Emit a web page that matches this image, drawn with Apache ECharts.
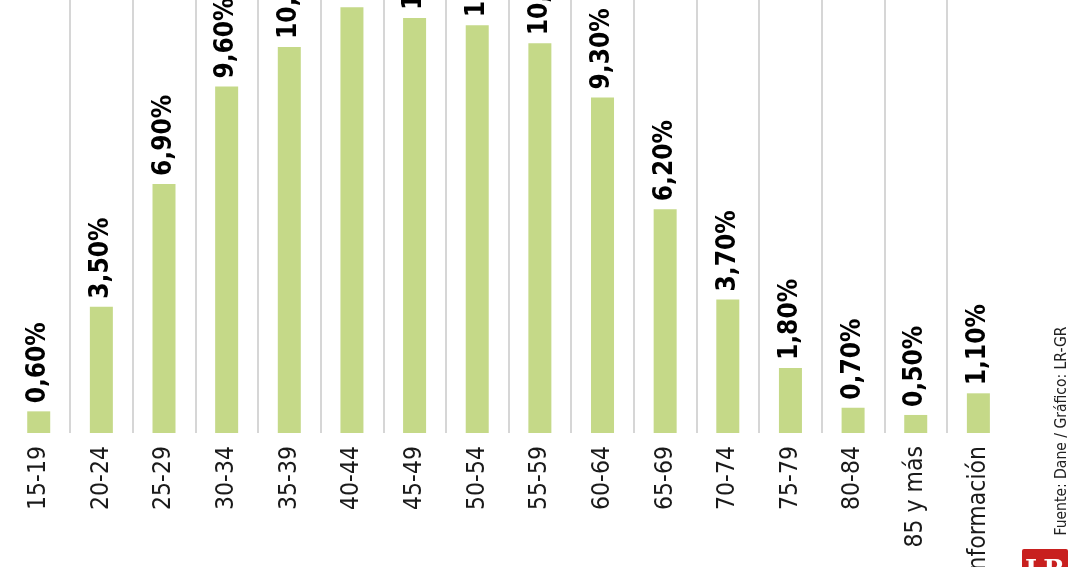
<!DOCTYPE html>
<html>
<head>
<meta charset="utf-8">
<style>html,body{margin:0;padding:0;background:#fff;}#c{width:1080px;height:567px;}</style>
<script src="https://cdn.jsdelivr.net/npm/echarts@6/dist/echarts.min.js"></script>
</head>
<body>
<div id="c"></div>
<script>
const categories = ['15-19','20-24','25-29','30-34','35-39','40-44','45-49','50-54','55-59','60-64','65-69','70-74','75-79','80-84','85 y más','Sin información'];
const values = [0.6, 3.5, 6.9, 9.6, 10.7, 11.8, 11.5, 11.3, 10.8, 9.3, 6.2, 3.7, 1.8, 0.7, 0.5, 1.1];
const sourceText = 'Fuente: Dane / Gráfico: LR-GR';

const FONT = "'DejaVu Sans Condensed', 'Roboto', sans-serif";
const chart = echarts.init(document.getElementById('c'));
chart.setOption({
  animation: false,
  backgroundColor: '#ffffff',
  grid: { left: 7.4, right: 70.3, top: 0, bottom: 134, containLabel: false, outerBoundsMode: 'none' },
  xAxis: {
    type: 'category',
    data: categories,
    boundaryGap: true,
    axisLine: { show: false },
    axisTick: { show: false },
    axisLabel: {
      rotate: 90,
      margin: 13,
      interval: 0,
      hideOverlap: false,
      fontFamily: FONT,
      fontSize: 24.5,
      color: '#1a1a1a'
    },
    splitLine: { show: true, showMinLine: false, showMaxLine: false, lineStyle: { color: '#c8c8c8', width: 1.5 } }
  },
  yAxis: {
    type: 'value', min: 0, max: 12, show: false, splitLine: { show: false }
  },
  series: [{
    type: 'bar',
    data: values,
    barWidth: 23,
    itemStyle: { color: '#c5d988' },
    label: {
      show: true,
      position: 'top',
      rotate: 90,
      align: 'left',
      verticalAlign: 'middle',
      distance: 8,
      fontFamily: FONT,
      fontWeight: 'bold',
      fontSize: 26,
      color: '#000',
      formatter: p => p.value.toFixed(2).replace('.', ',') + '%'
    }
  }],
  graphic: [
    {
      type: 'text',
      x: 1062, y: 431,
      rotation: Math.PI / 2,
      style: {
        text: sourceText,
        fontFamily: FONT,
        fontSize: 15.5,
        fill: '#222',
        align: 'center',
        verticalAlign: 'middle'
      }
    },
    {
      type: 'rect',
      shape: { x: 1022, y: 549, width: 46, height: 30, r: 2 },
      style: { fill: '#c8201f' }
    },
    {
      type: 'text',
      x: 1045, y: 558,
      style: {
        text: 'LR',
        fontFamily: 'DejaVu Serif',
        fontWeight: 'bold',
        fontSize: 26,
        fill: '#fff',
        align: 'center',
        verticalAlign: 'top'
      }
    }
  ]
});
</script>
</body>
</html>
